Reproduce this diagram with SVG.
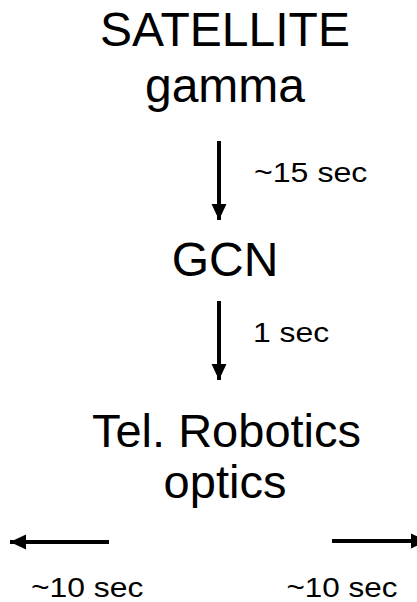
<svg xmlns="http://www.w3.org/2000/svg" width="417" height="602" viewBox="0 0 417 602">
<style>
.big{font-family:"Liberation Sans",Arial,sans-serif;font-size:48px;fill:#000;text-anchor:middle}
.mid{font-family:"Liberation Sans",Arial,sans-serif;font-size:47px;fill:#000;text-anchor:middle}
.small{font-family:"Liberation Sans",Arial,sans-serif;font-size:27px;fill:#000}
.conn{stroke:#000;stroke-width:4;fill:none}
</style>
<defs>
<marker id="ah" markerUnits="userSpaceOnUse" markerWidth="16" markerHeight="16" viewBox="0 0 15 14" refX="15" refY="7" orient="auto">
<path d="M0,0 L15,7 L0,14 Z" fill="#000"/>
</marker>
</defs>
<rect width="417" height="602" fill="#fff"/>
<g id="satellite">
<text class="big" x="225" y="46">SATELLITE</text>
<text class="big" x="225" y="102">gamma</text>
</g>
<g id="gcn">
<text class="big" x="225" y="276">GCN</text>
</g>
<g id="robotics">
<text class="mid" x="226.5" y="447">Tel. Robotics</text>
<text class="mid" x="225" y="498">optics</text>
</g>
<g id="connectors">
<line class="conn" x1="219" y1="141" x2="219" y2="220" marker-end="url(#ah)"/>
<line class="conn" x1="219" y1="301" x2="219" y2="380" marker-end="url(#ah)"/>
<line class="conn" x1="109" y1="542" x2="10" y2="542" marker-end="url(#ah)"/>
<line class="conn" x1="332" y1="541" x2="427" y2="541" marker-end="url(#ah)"/>
</g>
<g id="labels">
<text class="small" transform="translate(254,182) scale(1.19,1)">~15 sec</text>
<text class="small" transform="translate(253,342) scale(1.18,1)">1 sec</text>
<text class="small" transform="translate(31,597) scale(1.18,1)">~10 sec</text>
<text class="small" transform="translate(286.5,597) scale(1.165,1)">~10 sec</text>
</g>
</svg>
